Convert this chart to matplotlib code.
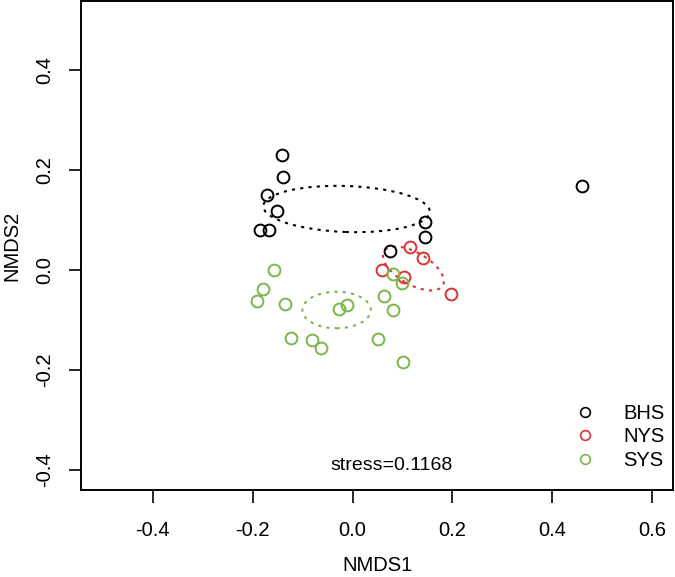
import matplotlib
matplotlib.use("Agg")
import matplotlib.pyplot as plt
from matplotlib.patches import Ellipse

plt.rcParams['font.family'] = ['Liberation Sans', 'DejaVu Sans']

# NMDS site scores
bhs_x = [-0.142, -0.139, -0.172, -0.152, -0.186, -0.167, 0.146, 0.146, 0.076, 0.460]
bhs_y = [0.230, 0.187, 0.150, 0.119, 0.080, 0.081, 0.097, 0.067, 0.039, 0.168]
nys_x = [0.115, 0.142, 0.060, 0.103, 0.197]
nys_y = [0.047, 0.025, 0.000, -0.013, -0.047]
sys_x = [-0.158, -0.180, -0.191, -0.135, -0.027, -0.011, -0.123, -0.081, -0.063,
         0.052, 0.064, 0.082, 0.082, 0.100, 0.102]
sys_y = [0.001, -0.038, -0.062, -0.067, -0.077, -0.070, -0.135, -0.139, -0.155,
         -0.138, -0.051, -0.079, -0.007, -0.025, -0.183]

groups = ['BHS', 'NYS', 'SYS']
colors = ['black', '#E03131', '#7AB648']

# group ellipses: center x, center y, width, height, angle
ell_cx = [-0.012, 0.122, -0.032]
ell_cy = [0.122, 0.003, -0.080]
ell_w = [0.334, 0.136, 0.137]
ell_h = [0.092, 0.064, 0.073]
ell_ang = [-2, -30, 0]

stress = 0.1168

fig = plt.figure(figsize=(6.75, 5.77), dpi=100)
ax = fig.add_axes([81 / 675, 87 / 577, 592 / 675, 489 / 577])

xs = [bhs_x, nys_x, sys_x]
ys = [bhs_y, nys_y, sys_y]
for i in range(3):
    ax.plot(xs[i], ys[i], 'o', mfc='none', mec=colors[i], mew=1.4, ms=8.5,
            linestyle='none')
    e = Ellipse((ell_cx[i], ell_cy[i]), ell_w[i], ell_h[i], angle=ell_ang[i],
                fill=False, edgecolor=colors[i], linewidth=1.5,
                linestyle=(0, (1.5, 2.5)))
    ax.add_patch(e)

ax.text(0.079, -0.39, 'stress=%.4f' % stress, ha='center', va='center', fontsize=14)

# legend
handles = [plt.Line2D([], [], marker='o', mfc='none', mec=c, mew=1.2, ms=7,
                      linestyle='none') for c in colors]
leg = ax.legend(handles, groups, loc='lower right', frameon=False, fontsize=14.5,
                bbox_to_anchor=(1.02, 0.0), handletextpad=1.1, labelspacing=0.22,
                borderaxespad=0.6, handlelength=1.6)

ax.set_xlim(-0.544, 0.642)
ax.set_ylim(-0.44, 0.538)
ax.set_xticks([-0.4, -0.2, 0.0, 0.2, 0.4, 0.6])
ax.set_xticklabels(['-0.4', '-0.2', '0.0', '0.2', '0.4', '0.6'])
ax.set_yticks([-0.4, -0.2, 0.0, 0.2, 0.4])
ax.set_yticklabels(['-0.4', '-0.2', '0.0', '0.2', '0.4'], rotation=90, va='center')
ax.tick_params(axis='both', length=9, width=1.2, labelsize=14.5)
ax.tick_params(axis='x', pad=13)
ax.tick_params(axis='y', pad=10)
for s in ax.spines.values():
    s.set_linewidth(1.4)

ax.set_xlabel('NMDS1', fontsize=14.5, labelpad=12)
ax.set_ylabel('NMDS2', fontsize=14.5, labelpad=10)

plt.savefig('out.png', dpi=100)
